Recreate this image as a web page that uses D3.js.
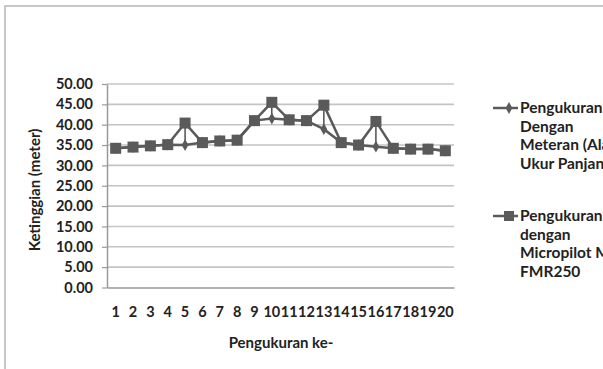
<!DOCTYPE html>
<html><head><meta charset="utf-8">
<script src="https://cdn.jsdelivr.net/npm/d3@7"></script>
<style>
html,body{margin:0;padding:0;background:#fff;overflow:hidden}
svg{display:block}
text{font-family:Lato,"Open Sans",sans-serif;font-weight:bold;fill:#222}
</style></head>
<body>
<svg id="c" width="603" height="369"></svg>
<script>
const categories = ["1","2","3","4","5","6","7","8","9","10","11","12","13","14","15","16","17","18","19","20"];
const meteranValues = [34.2,34.5,34.8,35.1,35.0,35.6,36.0,36.2,41.0,41.5,41.2,41.0,38.9,35.6,35.0,34.6,34.2,34.0,34.0,33.6];
const micropilotValues = [34.2,34.5,34.8,35.1,40.4,35.6,36.0,36.2,41.0,45.5,41.2,41.0,44.8,35.6,35.0,40.8,34.2,34.0,34.0,33.6];
const yTicks = [0,5,10,15,20,25,30,35,40,45,50];
const seriesNames = [["Pengukuran","Dengan","Meteran (Alat","Ukur Panjang)"],["Pengukuran","dengan","Micropilot M","FMR250"]];

const svg = d3.select("#c");
const color = "#5a5a5a";
const grid = "#c4c4c4";

// outer frame
svg.append("path").attr("d","M5,369 V6 H603").attr("fill","none").attr("stroke","#c8c8c8").attr("stroke-width",2);

const x = d3.scaleBand().domain(categories).range([107,454]);
const y = d3.scaleLinear().domain([0,50]).range([287.5,84]);

// gridlines
svg.append("g").selectAll("line").data(yTicks.slice(1)).join("line")
  .attr("x1",107).attr("x2",454).attr("y1",d=>y(d)).attr("y2",d=>y(d))
  .attr("stroke",grid).attr("stroke-width",1.6);

// y axis
const ya = svg.append("g").attr("transform","translate(107,0)")
  .call(d3.axisLeft(y).tickValues(yTicks).tickFormat(d3.format(".2f")).tickSize(5).tickSizeOuter(0));
ya.select(".domain").attr("stroke","#999").attr("stroke-width",1.5);
ya.selectAll(".tick line").attr("stroke","#999").attr("stroke-width",1.2);
ya.selectAll(".tick text").attr("x",-14).style("font-size","14.5px").style("font-family","Lato, sans-serif").style("font-weight","bold").attr("fill","#222");

// x axis
const xa = svg.append("g").attr("transform","translate(0,287.5)")
  .call(d3.axisBottom(x).tickSize(0).tickSizeOuter(0));
xa.select(".domain").attr("stroke","#999").attr("stroke-width",1.5);
xa.selectAll(".tick text").attr("y",19).style("font-size","14.5px").style("font-family","Lato, sans-serif").style("font-weight","bold").attr("fill","#222");

const cx = d => x(d) + x.bandwidth()/2;

// axis titles
svg.append("text").attr("x",281).attr("y",348).attr("text-anchor","middle").style("font-size","15px").text("Pengukuran ke-");
svg.append("text").attr("transform","translate(40,190) rotate(-90)").attr("text-anchor","middle").style("font-size","15px").text("Ketinggian (meter)");

const line = d3.line().x((d,i)=>cx(categories[i])).y(d=>y(d));

// high-low lines
svg.append("g").selectAll("line").data(categories).join("line")
  .attr("x1",d=>cx(d)).attr("x2",d=>cx(d))
  .attr("y1",(d,i)=>y(meteranValues[i])).attr("y2",(d,i)=>y(micropilotValues[i]))
  .attr("stroke","#222").attr("stroke-width",1.2);

// series 1
svg.append("path").datum(meteranValues).attr("d",line).attr("fill","none").attr("stroke",color).attr("stroke-width",2.5);
const diamond = d3.symbol().type(d3.symbolDiamond).size(40);
svg.append("g").selectAll("path").data(meteranValues).join("path")
  .attr("d",diamond).attr("transform",(d,i)=>`translate(${cx(categories[i])},${y(d)})`).attr("fill",color);

// series 2
svg.append("path").datum(micropilotValues).attr("d",line).attr("fill","none").attr("stroke",color).attr("stroke-width",2.5);
svg.append("g").selectAll("rect").data(micropilotValues).join("rect")
  .attr("x",(d,i)=>cx(categories[i])-5.5).attr("y",d=>y(d)-5.5).attr("width",11).attr("height",11).attr("fill",color);

// legend
const legY = [108,216];
seriesNames.forEach((lines,k)=>{
  const g = svg.append("g");
  g.append("line").attr("x1",493).attr("x2",518).attr("y1",legY[k]).attr("y2",legY[k]).attr("stroke",color).attr("stroke-width",2.5);
  if(k===0) g.append("path").attr("d",diamond).attr("transform",`translate(509,${legY[k]})`).attr("fill",color);
  else g.append("rect").attr("x",504).attr("y",legY[k]-5).attr("width",10).attr("height",10).attr("fill",color);
  lines.forEach((t,j)=>{
    g.append("text").attr("x",520).attr("y",legY[k]+j*18.7+5).style("font-size","15.5px").text(t);
  });
});
</script>
</body></html>
